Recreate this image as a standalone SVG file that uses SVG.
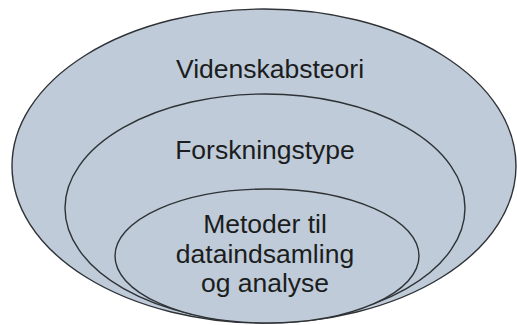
<svg xmlns="http://www.w3.org/2000/svg" width="517" height="325" viewBox="0 0 517 325">
<style>
.ring{fill:#bfcbd8;stroke:#2e3236;stroke-width:1.4}
.lbl{font-family:"Liberation Sans",Arial,sans-serif;font-size:26.5px;fill:#1b1d20;text-anchor:middle}
</style>
<rect width="517" height="325" fill="#ffffff"/>
<g id="videnskabsteori">
<ellipse class="ring" cx="264" cy="166" rx="252" ry="157"/>
<text class="lbl" x="270" y="78">Videnskabsteori</text>
</g>
<g id="forskningstype">
<ellipse class="ring" cx="265" cy="208" rx="200" ry="114"/>
<text class="lbl" x="265" y="159">Forskningstype</text>
</g>
<g id="metoder">
<ellipse class="ring" cx="267" cy="256" rx="152" ry="67"/>
<text class="lbl" x="265" y="233">Metoder til</text>
<text class="lbl" x="265" y="263">dataindsamling</text>
<text class="lbl" x="265" y="292">og analyse</text>
</g>
<g id="connectors"/>
</svg>
